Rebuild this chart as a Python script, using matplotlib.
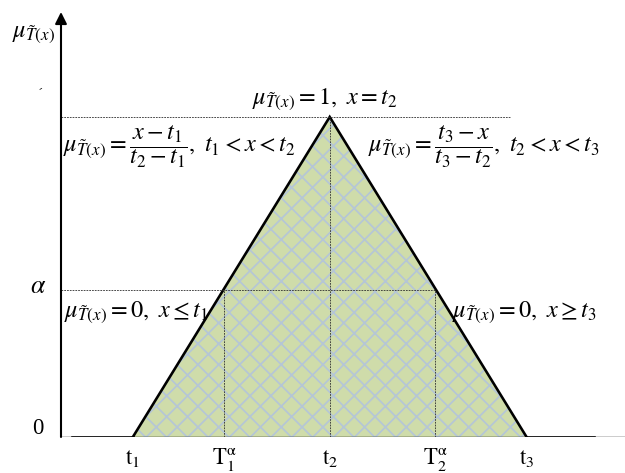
import matplotlib
matplotlib.use("Agg")
import matplotlib.pyplot as plt

plt.rcParams['mathtext.fontset'] = 'stix'
plt.rcParams['font.family'] = ['Liberation Serif', 'DejaVu Serif']
plt.rcParams['hatch.color'] = '#b5c6d6'
plt.rcParams['hatch.linewidth'] = 1.0

# triangular fuzzy number
t_vals = [1.0, 3.0, 5.0]          # t1, t2, t3
mu_vals = [0.0, 1.0, 0.0]
alpha = 0.46
cut_vals = [1.93, 4.07]           # T1^alpha, T2^alpha
zero_left = [0.38, 1.0]           # mu = 0 for x <= t1
zero_right = [5.0, 5.68]          # mu = 0 for x >= t3
x_axis0 = 0.27

tick_labels = [r'$\mathrm{t_1}$', r'$\mathrm{T_1^{α}}$', r'$\mathrm{t_2}$',
               r'$\mathrm{T_2^{α}}$', r'$\mathrm{t_3}$']
tick_pos = [t_vals[0], cut_vals[0], t_vals[1], cut_vals[1], t_vals[2]]

fig = plt.figure(figsize=(5.0, 3.784), dpi=125)
ax = fig.add_axes([61 / 625, 36 / 473, 564 / 625, 425 / 473])
ax.set_xlim(x_axis0, 6.0)
ax.set_ylim(0, 1.328)
ax.axis('off')

# shaded triangle
ax.fill(t_vals, mu_vals, facecolor='#cfdcaa', edgecolor='#b5c6d6', hatch='xx', lw=0)
ax.plot(t_vals, mu_vals, color='k', lw=1.5, solid_joinstyle='miter')
ax.plot(zero_left, [0, 0], color='k', lw=1.5)
ax.plot(zero_right, [0, 0], color='k', lw=1.5)

# axes
ax.axhline(0, color='k', lw=0.8)
ax.annotate('', xy=(0, 1), xytext=(0, 0), xycoords='axes fraction',
            arrowprops=dict(arrowstyle='-|>', color='k', lw=1.2, mutation_scale=14,
                            shrinkA=0, shrinkB=0))

# guide lines
dash = dict(color='#333333', lw=0.5, dashes=(2, 1.2))
ax.plot([x_axis0, 4.83], [1, 1], **dash)
ax.plot([x_axis0, cut_vals[1]], [alpha, alpha], **dash)
ax.plot([cut_vals[0], cut_vals[0]], [0, alpha], **dash)
ax.plot([cut_vals[1], cut_vals[1]], [0, alpha], **dash)
ax.plot([t_vals[1], t_vals[1]], [0, 1], **dash)

mu = r'\mu_{\tilde{T}(x)}'
fs = 14
ax.text(-0.23, 1.256, '$' + mu + '$', fontsize=14, ha='left', va='center', clip_on=False)
ax.text(0.067, 1.0875, '-', fontsize=6, rotation=30, ha='center', va='center', clip_on=False)
ax.text(2.953, 1.055, '$' + mu + r'=1,\ x=t_2$', fontsize=fs, ha='center', va='center')
ax.text(0.29, 0.906, '$' + mu + r'=\dfrac{x-t_1}{t_2-t_1},\ t_1<x<t_2$',
        fontsize=fs, ha='left', va='center')
ax.text(3.39, 0.906, '$' + mu + r'=\dfrac{t_3-x}{t_3-t_2},\ t_2<x<t_3$',
        fontsize=fs, ha='left', va='center')
ax.text(0.30, 0.39, '$' + mu + r'=0,\ x\leq t_1$', fontsize=fs, ha='left', va='center')
ax.text(4.24, 0.39, '$' + mu + r'=0,\ x\geq t_3$', fontsize=fs, ha='left', va='center')
ax.text(0.036, alpha + 0.01, r'$\alpha$', fontsize=15, ha='center', va='center', clip_on=False)
ax.text(0.036, 0.028, '0', fontsize=13, ha='center', va='center', clip_on=False)

for pos, lab in zip(tick_pos, tick_labels):
    ax.text(pos, -0.088, lab, fontsize=13, ha='center', va='baseline', clip_on=False)

fig.savefig('out.png', dpi=125)
